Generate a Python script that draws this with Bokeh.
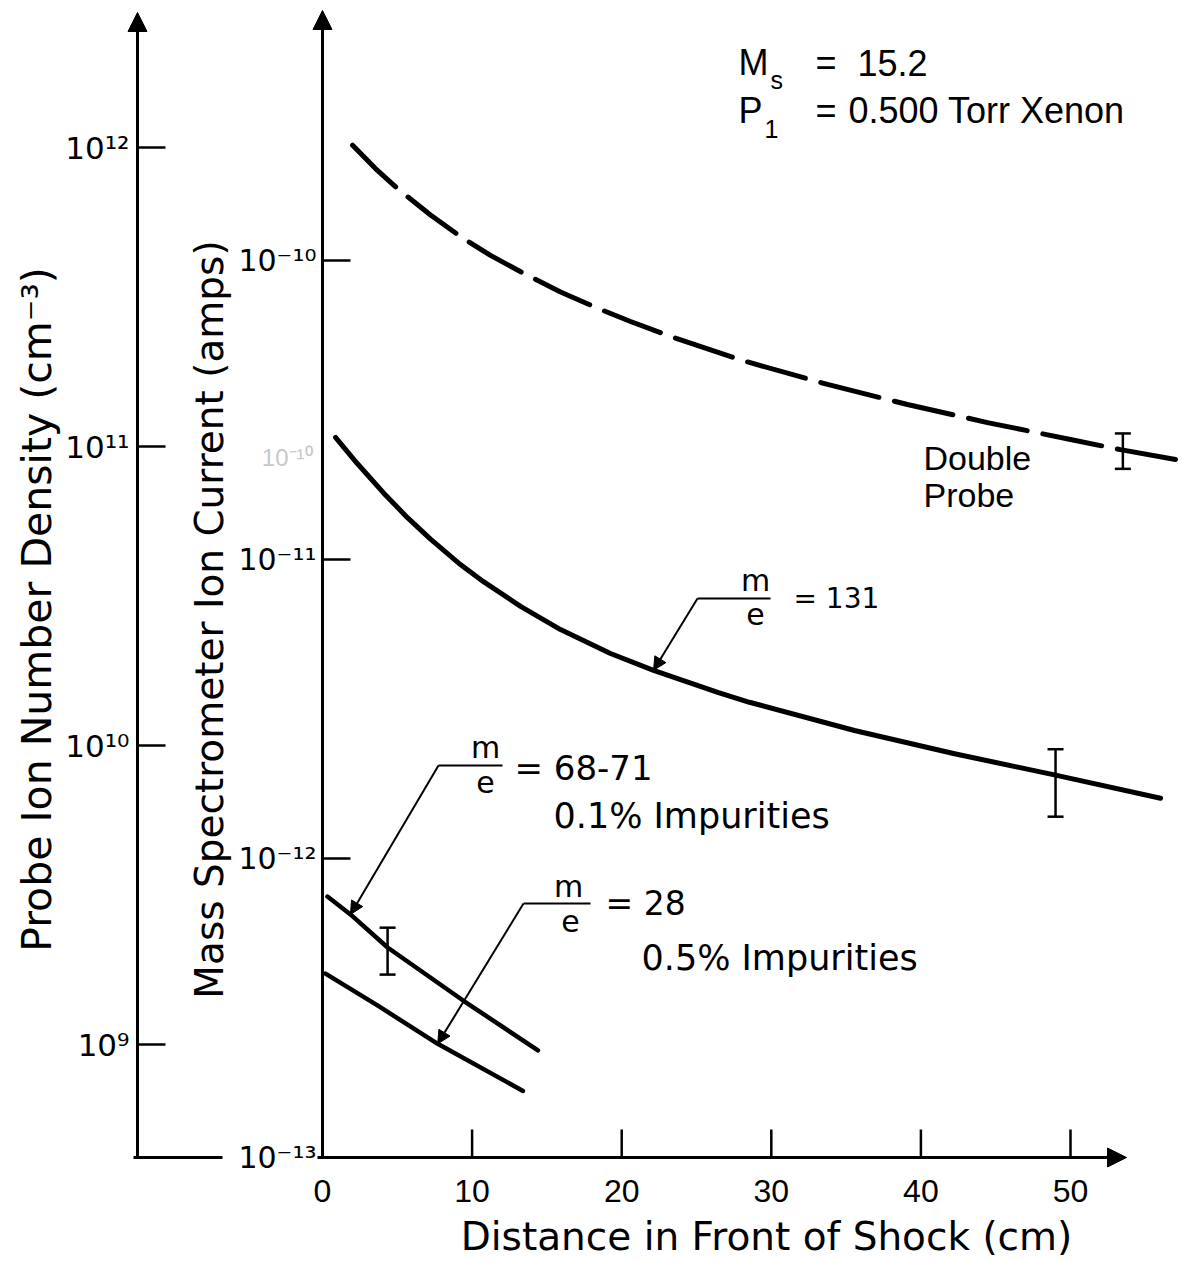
import math
from bokeh.plotting import figure
from bokeh.models import (Range1d, LogScale, Arrow, NormalHead, TeeHead, Whisker,
                          ColumnDataSource, Label)
from bokeh.core.properties import value
from bokeh.embed import file_html
from bokeh.resources import INLINE

# ---------------- data ----------------
x_tick_values = [0, 10, 20, 30, 40, 50]
x_tick_labels = ["0", "10", "20", "30", "40", "50"]

current_tick_values = [1e-13, 1e-12, 1e-11, 1e-10]
current_tick_labels = ["10⁻¹³", "10⁻¹²", "10⁻¹¹", "10⁻¹⁰"]

density_tick_values = [1e9, 1e10, 1e11, 1e12]
density_tick_labels = ["10⁹", "10¹⁰", "10¹¹", "10¹²"]

# Double probe (dashed), amps on the mass-spectrometer scale
probe_x = [2.01, 3.54, 5.01, 7.22, 9.36, 11.23, 13.44, 15.91, 18.25, 20.59, 23.26, 28.07,
           33.76, 39.10, 44.45, 50.0, 53.34, 57.02]
probe_amps = [2.43e-10, 2.03e-10, 1.74e-10, 1.42e-10, 1.19e-10, 1.04e-10, 9.06e-11, 7.85e-11,
              6.97e-11, 6.25e-11, 5.57e-11, 4.63e-11, 3.85e-11, 3.30e-11, 2.87e-11, 2.52e-11,
              2.33e-11, 2.16e-11]

# m/e = 131
me131_x = [0.87, 2.34, 4.08, 5.68, 7.22, 9.22, 10.76, 13.24, 15.91, 19.25, 22.13, 26.47,
           28.54, 35.56, 42.25, 49.0, 56.02]
me131_amps = [2.56e-11, 2.09e-11, 1.67e-11, 1.38e-11, 1.17e-11, 9.62e-12, 8.43e-12, 6.97e-12,
              5.83e-12, 4.85e-12, 4.26e-12, 3.59e-12, 3.33e-12, 2.68e-12, 2.24e-12, 1.90e-12,
              1.59e-12]

# m/e = 68-71
me6871_x = [0.33, 1.87, 4.35, 9.4, 14.4]
me6871_amps = [7.46e-13, 6.50e-13, 5.04e-13, 3.35e-13, 2.28e-13]

# m/e = 28
me28_x = [0.2, 3.7, 7.7, 13.4]
me28_amps = [4.12e-13, 3.22e-13, 2.40e-13, 1.67e-13]

# error bars
errbar_x = [53.5, 49.0, 4.35]
errbar_low = [2.01e-11, 1.38e-12, 4.09e-13]
errbar_high = [2.64e-11, 2.32e-12, 5.87e-13]

# ---------------- layout (pixel geometry of the drawing) ----------------
W, H = 1183, 1261
X0_PX = 322       # x = 0 cm (inner axis)
Y13_PX = 1157     # 1e-13 A (x axis)
D9_PX = 1044      # 1e9 cm^-3 on the outer axis
CM_PX = 14.96
DEC_PX = 299.0


def dx(px):
    return (px - X0_PX) / CM_PX


def dy(py):
    return 1e-13 * 10 ** ((Y13_PX - py) / DEC_PX)


def dd(py):
    return 1e9 * 10 ** ((D9_PX - py) / DEC_PX)


LETTER = "DejaVu Sans"
TYPE = "Liberation Sans"
BLACK = "black"

p = figure(width=W, height=H, x_range=Range1d(dx(0), dx(W)), y_range=Range1d(dy(H), dy(0)),
           y_axis_type="log", x_axis_location=None, y_axis_location=None,
           output_backend="svg", toolbar_location=None, title=None,
           min_border=0, min_border_left=0, min_border_right=0, min_border_top=0,
           min_border_bottom=0, outline_line_color=None,
           background_fill_color="white", border_fill_color="white")
p.extra_y_ranges = {"density": Range1d(dd(H), dd(0))}
p.extra_y_scales = {"density": LogScale()}
p.grid.visible = False


def head(size):
    return NormalHead(size=size, fill_color=BLACK, line_color=BLACK, line_width=1)


# ---------------- axes ----------------
# inner (ion current) axis
p.add_layout(Arrow(end=head(19), x_start=0, y_start=dy(Y13_PX), x_end=0, y_end=dy(10),
                   line_width=3, line_color=BLACK))
p.segment(x0=0, y0=current_tick_values, x1=dx(350), y1=current_tick_values,
          line_width=2.5, line_color=BLACK)
p.text(x=dx(316), y=current_tick_values, text=current_tick_labels, text_align="right",
       text_baseline="middle", text_font=value(LETTER), text_font_size=value("30px"),
       text_color=BLACK)

# outer (probe density) axis
p.add_layout(Arrow(end=head(19), x_start=dx(137), y_start=dy(Y13_PX), x_end=dx(137),
                   y_end=dy(12), line_width=3, line_color=BLACK))
p.segment(x0=dx(137), y0=density_tick_values, x1=dx(165), y1=density_tick_values,
          y_range_name="density", line_width=2.5, line_color=BLACK)
p.text(x=dx(129), y=density_tick_values, text=density_tick_labels, y_range_name="density",
       text_align="right", text_baseline="middle", text_font=value(LETTER),
       text_font_size=value("31px"), text_color=BLACK)
p.segment(x0=dx(133), y0=dy(Y13_PX), x1=dx(222), y1=dy(Y13_PX), line_width=3, line_color=BLACK)

# x axis
p.add_layout(Arrow(end=head(19), x_start=dx(317), y_start=dy(Y13_PX), x_end=dx(1126),
                   y_end=dy(Y13_PX), line_width=3, line_color=BLACK))
p.segment(x0=x_tick_values[1:], y0=dy(Y13_PX), x1=x_tick_values[1:], y1=dy(1129),
          line_width=2.5, line_color=BLACK)
p.text(x=x_tick_values, y=dy(1190), text=x_tick_labels, text_align="center",
       text_baseline="middle", text_font=value(TYPE), text_font_size=value("32px"),
       text_color=BLACK)

# axis titles
p.text(x=[dx(766)], y=[dy(1236)], text=["Distance in Front of Shock (cm)"],
       text_align="center", text_baseline="middle", text_font=value(LETTER),
       text_font_size=value("39px"), text_color=BLACK)
p.text(x=[dx(36)], y=[dy(609)], text=["Probe Ion Number Density (cm⁻³)"], angle=math.pi / 2,
       text_align="center", text_baseline="middle", text_font=value(LETTER),
       text_font_size=value("41px"), text_color=BLACK)
p.text(x=[dx(209)], y=[dy(619)], text=["Mass Spectrometer Ion Current (amps)"],
       angle=math.pi / 2, text_align="center", text_baseline="middle",
       text_font=value(LETTER), text_font_size=value("39px"), text_color=BLACK)

# faint ghost label of the scan
p.text(x=[dx(312)], y=[dy(457)], text=["10⁻¹⁰"], text_align="right", text_baseline="middle",
       text_font=value(TYPE), text_font_size=value("24px"), text_color="#c8c8c8")

# ---------------- curves ----------------
p.line(probe_x, probe_amps, line_width=5, line_color=BLACK, line_dash="60 16", line_cap="round",
       line_join="round")
p.line(me131_x, me131_amps, line_width=5, line_color=BLACK, line_cap="round",
       line_join="round")
p.line(me6871_x, me6871_amps, line_width=4.5, line_color=BLACK, line_cap="round",
       line_join="round")
p.line(me28_x, me28_amps, line_width=4.5, line_color=BLACK, line_cap="round",
       line_join="round")

# error bars
err_src = ColumnDataSource(dict(x=errbar_x, low=errbar_low, high=errbar_high))
p.add_layout(Whisker(source=err_src, base="x", upper="high", lower="low", dimension="height",
                     line_width=2.5, line_color=BLACK,
                     upper_head=TeeHead(size=16, line_width=2.5, line_color=BLACK),
                     lower_head=TeeHead(size=16, line_width=2.5, line_color=BLACK)))

# leaders: (corner px, bar-end px, tip taken from the curve)
leaders = [
    ((697, 598), 770, (me131_x[10], me131_amps[10])),
    ((438, 765), 502, (me6871_x[1], me6871_amps[1])),
    ((523, 903), 590, (me28_x[2], me28_amps[2])),
]
for (cx, cy), bx, (tx, ty) in leaders:
    p.add_layout(Arrow(end=head(13), x_start=dx(cx), y_start=dy(cy), x_end=tx, y_end=ty,
                       line_width=2, line_color=BLACK))
    p.add_layout(Arrow(start=None, end=None, x_start=dx(cx), y_start=dy(cy), x_end=dx(bx),
                       y_end=dy(cy), line_width=2, line_color=BLACK))


def label(text, px, py, size, font=LETTER, align="left", baseline="middle", color=BLACK):
    p.add_layout(Label(x=dx(px), y=dy(py), text=text, text_font=font,
                       text_font_size=f"{size}px", text_align=align,
                       text_baseline=baseline, text_color=color))


# fraction labels
label("m", 755, 580, 30, align="center")
label("e", 755, 613, 30, align="center")
label("= 131", 793, 598, 28)

label("m", 485, 747, 30, align="center")
label("e", 485, 781, 30, align="center")
label("= 68-71", 514, 767, 34)
label("0.1% Impurities", 553, 815, 35)

label("m", 568, 886, 30, align="center")
label("e", 570, 920, 30, align="center")
label("= 28", 605, 903, 33)
label("0.5% Impurities", 641, 957, 35)

label("Double", 923, 457, 34, font=TYPE)
label("Probe", 923, 494, 34, font=TYPE)

# conditions
label("M", 738, 62, 36, font=TYPE)
label("s", 770, 79, 25, font=TYPE)
label("=", 815, 62, 36, font=TYPE)
label("15.2", 857, 62, 36, font=TYPE)
label("P", 738, 110, 36, font=TYPE)
label("1", 764, 128, 25, font=TYPE)
label("=", 815, 110, 36, font=TYPE)
label("0.500 Torr Xenon", 848, 110, 36, font=TYPE)

open("out.html", "w").write(file_html(p, INLINE))
